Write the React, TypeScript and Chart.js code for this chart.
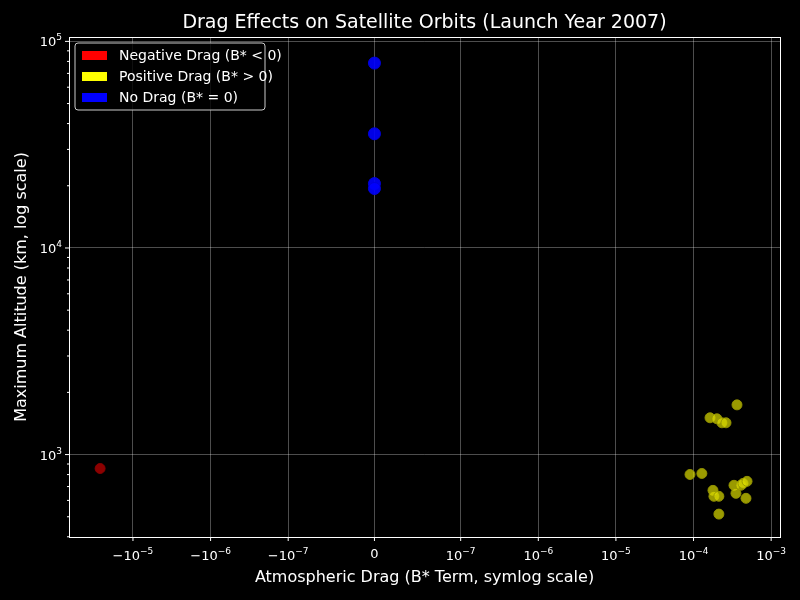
import React, { useEffect, useRef } from 'react';
import { Chart, registerables, LinearScale } from 'chart.js';

Chart.register(...registerables);

const LINTHRESH = 1e-7;
const LINSCALE = 1 / (1 - 1 / 10);

const negDrag = [{ x: -2.65e-5, y: 856 }];
const posDrag = [
  { x: 1.63e-4, y: 1507 }, { x: 2.0e-4, y: 1490 }, { x: 2.32e-4, y: 1425 },
  { x: 2.62e-4, y: 1425 }, { x: 3.63e-4, y: 1740 }, { x: 9.0e-5, y: 801 },
  { x: 1.28e-4, y: 810 }, { x: 1.78e-4, y: 671 }, { x: 1.83e-4, y: 628 },
  { x: 2.12e-4, y: 628 }, { x: 3.32e-4, y: 710 }, { x: 3.52e-4, y: 649 },
  { x: 4.08e-4, y: 710 }, { x: 4.34e-4, y: 725 }, { x: 4.89e-4, y: 742 },
  { x: 4.74e-4, y: 614 }, { x: 2.12e-4, y: 515 },
];
const noDrag = [
  { x: 0, y: 78500 }, { x: 0, y: 35700 }, { x: 0, y: 20500 }, { x: 0, y: 19400 },
];
const xTicks = [-1e-5, -1e-6, -1e-7, 0, 1e-7, 1e-6, 1e-5, 1e-4, 1e-3];
const yTicks = [1e3, 1e4, 1e5];
const legendItems = [
  { label: 'Negative Drag (B* < 0)', color: '#ff0000' },
  { label: 'Positive Drag (B* > 0)', color: '#ffff00' },
  { label: 'No Drag (B* = 0)', color: '#0000ff' },
];

const tf = (v: number) =>
  Math.abs(v) <= LINTHRESH
    ? (v / LINTHRESH) * LINSCALE
    : Math.sign(v) * (LINSCALE + Math.log10(Math.abs(v) / LINTHRESH));
const itf = (t: number) =>
  Math.abs(t) <= LINSCALE
    ? (t / LINSCALE) * LINTHRESH
    : Math.sign(t) * LINTHRESH * Math.pow(10, Math.abs(t) - LINSCALE);

class SymlogScale extends LinearScale {
  static id = 'symlog';
  static defaults = LinearScale.defaults;
  buildTicks() {
    return xTicks.map((v) => ({ value: v }));
  }
  getPixelForValue(v: number) {
    const a = tf(this.min), b = tf(this.max);
    return this.getPixelForDecimal((tf(v) - a) / (b - a));
  }
  getValueForPixel(p: number) {
    const a = tf(this.min), b = tf(this.max);
    return itf(a + this.getDecimalForPixel(p) * (b - a));
  }
}
Chart.register(SymlogScale as any);

const FONT = '"DejaVu Sans", sans-serif';

function powLabel(ctx: any, x: number, y: number, neg: boolean, exp: number, align: string) {
  const base = (neg ? '\u221210' : '10');
  const sup = '\u2212' + Math.abs(exp);
  const supTxt = exp < 0 ? sup : String(exp);
  ctx.font = `13px ${FONT}`;
  const w1 = ctx.measureText(base).width;
  ctx.font = `9px ${FONT}`;
  const w2 = ctx.measureText(supTxt).width;
  const total = w1 + w2;
  let x0 = align === 'center' ? x - total / 2 : x - total;
  ctx.textAlign = 'left';
  ctx.textBaseline = 'alphabetic';
  ctx.font = `13px ${FONT}`;
  ctx.fillText(base, x0, y);
  ctx.font = `9px ${FONT}`;
  ctx.fillText(supTxt, x0 + w1, y - 6);
}

const decor = {
  id: 'decor',
  beforeDraw(chart: any) {
    const c = chart.ctx;
    c.save();
    c.fillStyle = '#000';
    c.fillRect(0, 0, chart.width, chart.height);
    c.restore();
  },
  afterDraw(chart: any) {
    const c = chart.ctx;
    const { left, right, top, bottom } = chart.chartArea;
    const xs = chart.scales.x, ys = chart.scales.y;
    c.save();
    c.fillStyle = '#fff';
    c.strokeStyle = '#fff';
    c.lineWidth = 1;
    // x ticks
    xTicks.forEach((v) => {
      const px = xs.getPixelForValue(v);
      c.beginPath(); c.moveTo(px, bottom); c.lineTo(px, bottom + 4); c.stroke();
      if (v === 0) {
        c.font = `13px ${FONT}`; c.textAlign = 'center'; c.textBaseline = 'alphabetic';
        c.fillText('0', px, bottom + 21);
      } else {
        powLabel(c, px, bottom + 23, v < 0, Math.round(Math.log10(Math.abs(v))), 'center');
      }
    });
    // y ticks
    yTicks.forEach((v) => {
      const py = ys.getPixelForValue(v);
      c.beginPath(); c.moveTo(left, py); c.lineTo(left - 4, py); c.stroke();
      powLabel(c, left - 7, py + 5, false, Math.round(Math.log10(v)), 'right');
    });
    for (let d = 2; d <= 5; d++) {
      for (let m = 2; m <= 9; m++) {
        const v = m * Math.pow(10, d);
        if (v < ys.min || v > ys.max) continue;
        const py = ys.getPixelForValue(v);
        c.beginPath(); c.moveTo(left, py); c.lineTo(left - 2, py); c.stroke();
      }
    }
    // border
    c.strokeRect(left + 0.5, top + 0.5, right - left, bottom - top);
    // titles
    c.textAlign = 'center'; c.textBaseline = 'alphabetic';
    c.font = `19px ${FONT}`;
    c.fillText('Drag Effects on Satellite Orbits (Launch Year 2007)', (left + right) / 2, 28);
    c.font = `16px ${FONT}`;
    c.fillText('Atmospheric Drag (B* Term, symlog scale)', (left + right) / 2, 582);
    c.save();
    c.translate(26, (top + bottom) / 2); c.rotate(-Math.PI / 2);
    c.fillText('Maximum Altitude (km, log scale)', 0, 0);
    c.restore();
    // legend
    const lx = 75, ly = 43, lw = 190, lh = 67;
    c.fillStyle = 'rgba(0,0,0,0.8)';
    c.strokeStyle = '#ccc';
    c.beginPath(); c.roundRect(lx, ly, lw, lh, 3); c.fill(); c.stroke();
    c.font = `14px ${FONT}`; c.textAlign = 'left'; c.textBaseline = 'middle';
    legendItems.forEach((it, i) => {
      const yy = ly + 12 + i * 21;
      c.fillStyle = it.color;
      c.fillRect(lx + 7, yy - 4, 25, 9);
      c.fillStyle = '#fff';
      c.fillText(it.label, lx + 44, yy + 1);
    });
    c.restore();
  },
};

export default function App() {
  const ref = useRef<HTMLCanvasElement>(null);
  useEffect(() => {
    document.body.style.margin = '0';
    if (!ref.current) return;
    const chart = new Chart(ref.current, {
      type: 'scatter',
      data: {
        datasets: [
          { data: negDrag, backgroundColor: 'rgba(200,0,0,0.7)', borderColor: 'rgba(140,0,0,0.9)', pointRadius: 5, borderWidth: 1 },
          { data: posDrag, backgroundColor: 'rgba(220,220,0,0.7)', borderColor: 'rgba(150,150,0,0.9)', pointRadius: 5, borderWidth: 1 },
          { data: noDrag, backgroundColor: 'rgba(0,0,255,0.9)', borderColor: 'rgba(0,0,220,1)', pointRadius: 6, borderWidth: 1 },
        ],
      },
      options: {
        animation: false,
        responsive: false,
        layout: { padding: { left: 69, top: 37, right: 20, bottom: 63 } },
        plugins: { legend: { display: false }, tooltip: { enabled: false } },
        scales: {
          x: {
            type: 'symlog' as any,
            min: -6.67e-5,
            max: 1.3e-3,
            ticks: { display: false },
            border: { display: false },
            grid: { color: 'rgba(255,255,255,0.3)', drawTicks: false },
          },
          y: {
            type: 'logarithmic',
            min: 399,
            max: 105000,
            afterBuildTicks: (s: any) => { s.ticks = yTicks.map((v) => ({ value: v })); },
            ticks: { display: false },
            border: { display: false },
            grid: { color: 'rgba(255,255,255,0.3)', drawTicks: false },
          },
        },
      },
      plugins: [decor],
    });
    return () => chart.destroy();
  }, []);
  return <canvas ref={ref} width={800} height={600} style={{ display: 'block' }} />;
}
